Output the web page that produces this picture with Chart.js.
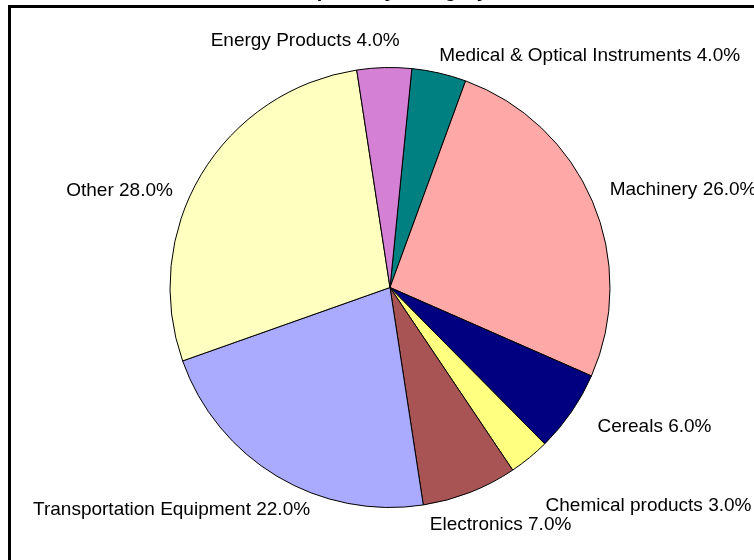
<!DOCTYPE html>
<html>
<head>
<meta charset="utf-8">
<title>Exports by Category</title>
<script src="https://cdn.jsdelivr.net/npm/chart.js@4/dist/chart.umd.min.js"></script>
<style>
  html, body { margin: 0; padding: 0; background: #fff; overflow: hidden; }
  #wrap { position: relative; width: 754px; height: 560px; overflow: hidden; }
  #box { position: absolute; left: 0; top: -30px; width: 754px; height: 620px; }
  #frame { position: absolute; left: 8px; top: 5px; width: 800px; height: 600px; border: 3px solid #000; }
</style>
</head>
<body>
<div id="wrap">
  <div id="box"><canvas id="pieChart"></canvas></div>
  <div id="frame"></div>
</div>
<script>
// slices in clockwise order, starting just right of 12 o'clock
const categories = [
  "Medical & Optical Instruments",
  "Machinery",
  "Cereals",
  "Chemical products",
  "Electronics",
  "Transportation Equipment",
  "Other",
  "Energy Products"
];
const shares = [4, 26, 6, 3, 7, 22, 28, 4];
const sliceColors = [
  "#008080", "#FFA8A8", "#000080", "#FFFF80",
  "#A85454", "#AAAAFF", "#FFFFC0", "#D480D4"
];

// outside labels "Name 12.0%", pushed out from each slice's middle,
// with small hand nudges where Excel shuffled them around
const labelNudge = [
  [112, 13], [3, 1], [18, -3], [40, 24],
  [-3, 3], [-23, 6], [-17, 32], [-76, 5]
];

const outsideLabels = {
  id: "outsideLabels",
  afterDatasetsDraw(chart) {
    const ctx = chart.ctx;
    const meta = chart.getDatasetMeta(0);
    ctx.save();
    ctx.font = "19px 'Liberation Sans', Arial, sans-serif";
    ctx.fillStyle = "#000";
    ctx.textAlign = "center";
    ctx.textBaseline = "middle";
    meta.data.forEach((arc, i) => {
      const p = arc.getProps(["x", "y", "startAngle", "endAngle", "outerRadius"], true);
      const mid = (p.startAngle + p.endAngle) / 2;
      const ux = Math.cos(mid), uy = Math.sin(mid);
      const text = chart.data.labels[i] + " " + chart.data.datasets[0].data[i].toFixed(1) + "%";
      const w = ctx.measureText(text).width;
      const h = 19;
      const r = p.outerRadius + 22;
      const cx = p.x + r * ux + (w / 2) * ux + labelNudge[i][0];
      const cy = p.y + r * uy + (h / 2) * uy + labelNudge[i][1];
      ctx.fillText(text, cx, cy);
    });
    ctx.restore();
  }
};

new Chart(document.getElementById("pieChart"), {
  type: "pie",
  data: {
    labels: categories,
    datasets: [{
      data: shares,
      backgroundColor: sliceColors,
      borderColor: "#000",
      borderWidth: 1
    }]
  },
  options: {
    responsive: true,
    maintainAspectRatio: false,
    animation: false,
    rotation: 5.7,
    layout: { padding: { left: 140, right: 114, top: 0, bottom: 82 } },
    plugins: {
      legend: { display: false },
      tooltip: { enabled: false },
      title: {
        display: true,
        text: "Exports by Category",
        color: "#000",
        font: { family: "'Liberation Sans', Arial, sans-serif", size: 20, weight: "bold" },
        padding: { top: 9, bottom: 64 }
      }
    }
  },
  plugins: [outsideLabels]
});
</script>
</body>
</html>
